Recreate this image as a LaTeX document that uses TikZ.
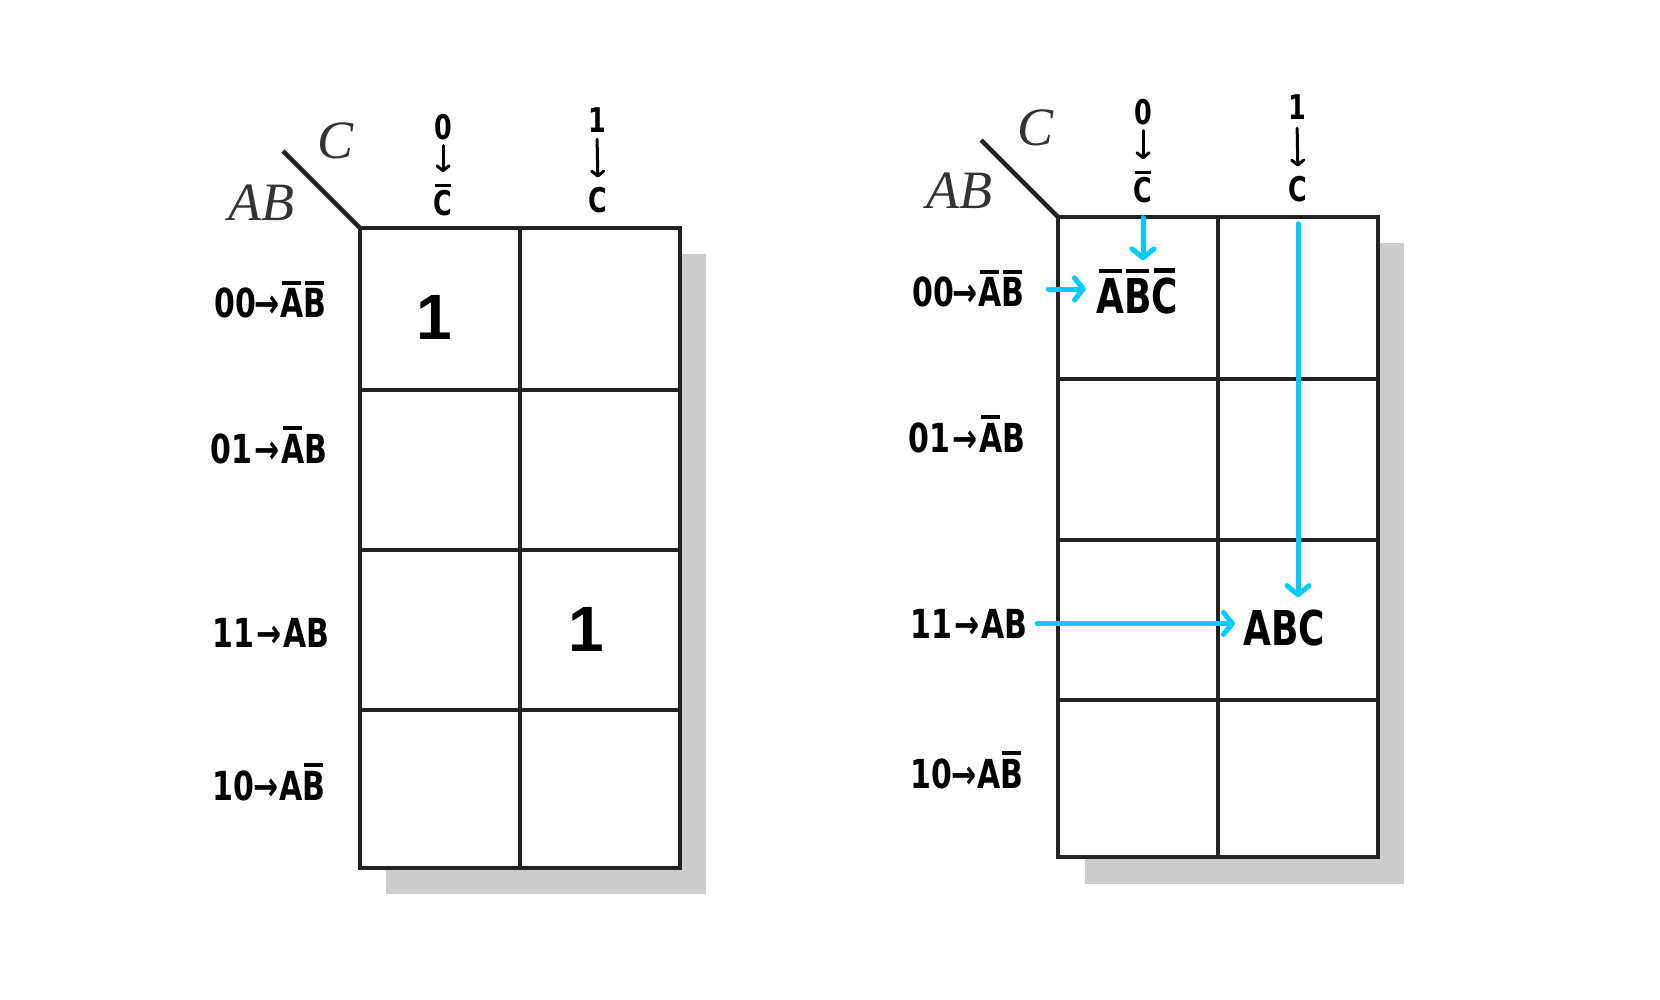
\documentclass[tikz,border=0pt]{standalone}
\usepackage{fontspec}
\setmainfont{Liberation Serif}
\newfontfamily\hand[FakeStretch=0.75]{DejaVu Sans}
\newfontfamily\onefont{Liberation Sans}
\usetikzlibrary{arrows.meta}
\definecolor{gridc}{HTML}{222222}
\definecolor{shadowc}{HTML}{CCCCCC}
\definecolor{cyanc}{HTML}{00CCFF}
\definecolor{serifc}{HTML}{333333}
\newcommand\ovl[1]{\setbox0\hbox{#1}\hbox{\rlap{\raise\dimexpr\ht0+0.1em\relax\hbox{\kern0.05em\vrule width\dimexpr\wd0-0.1em\relax height 0.085em depth 0pt}}\box0}}
\tikzset{
  rowlab/.style={font=\hand\bfseries\fontsize{40}{40}\selectfont, anchor=base west, inner sep=2pt},
  hdr/.style={font=\hand\bfseries\fontsize{34}{34}\selectfont, anchor=base, inner sep=2pt},
  celltxt/.style={font=\hand\bfseries\fontsize{48}{48}\selectfont, anchor=base, inner sep=2pt},
  bigone/.style={font=\onefont\bfseries\fontsize{64}{64}\selectfont, anchor=base, inner sep=0pt},
  axislab/.style={font=\itshape\fontsize{54}{54}\selectfont, text=serifc, inner sep=0pt},
  gridline/.style={draw=gridc, line width=4.5pt},
  harrow/.style={line width=3pt, line cap=round, -{Straight Barb[length=5pt,width=12pt,round]}},
  barrow/.style={draw=cyanc, line width=5pt, line cap=round, -{Straight Barb[length=9pt,width=22pt,round]}}
}
\begin{document}
\begin{tikzpicture}[x=1pt,y=-1pt]
\useasboundingbox[fill=white] (0,0) rectangle (1660,1000);

% ---------------- left panel ----------------
\fill[shadowc] (386,254) rectangle (706,894);
\draw[gridline, fill=white] (360,228) rectangle (680,868);
\draw[gridline] (520,228) -- (520,868);
\foreach \yy in {390,550,710} \draw[gridline] (360,\yy) -- (680,\yy);
\draw[gridline] (283,151) -- (360,228);

\node[axislab] (LCax) at (336,141) {C};
\node[axislab] (LABax) at (261,203) {AB};

\node[hdr] (L0) at (443,140) {0};
\node[hdr] (LCb) at (443,216) {\ovl{C}};
\draw[harrow, shorten <=3pt, shorten >=10pt] (L0.south) -- (LCb.north);
\node[hdr] (L1) at (597,133) {1};
\node[hdr] (LC) at (598,213) {C};
\draw[harrow, shorten <=4pt, shorten >=8pt] (L1.south) -- (LC.north);

\node[rowlab] (L00) at (212,318) {00\kern-1pt→\ovl{A}\ovl{B}};
\node[rowlab] (L01) at (208,463) {01\kern3pt→\kern1pt\ovl{A}B};
\node[rowlab] (L11) at (210,647) {11\kern3pt→\kern1ptAB};
\node[rowlab] (L10) at (210,800) {10→A\ovl{B}};

\node[bigone] (Lv1) at (434,339) {1};
\node[bigone] (Lv2) at (586,651) {1};

% ---------------- right panel ----------------
\fill[shadowc] (1085,243) rectangle (1404,884);
\draw[gridline, fill=white] (1058,217) rectangle (1378,857);
\draw[gridline] (1218,217) -- (1218,857);
\foreach \yy in {379,540,700} \draw[gridline] (1058,\yy) -- (1378,\yy);
\draw[gridline] (981,140) -- (1058,217);

\node[axislab] (RCax) at (1035,128) {C};
\node[axislab] (RABax) at (959,191) {AB};

\node[hdr] (R0) at (1143,125) {0};
\node[hdr] (RCb) at (1143,203) {\ovl{C}};
\draw[harrow, shorten <=3pt, shorten >=10pt] (R0.south) -- (RCb.north);
\node[hdr] (R1) at (1297,120) {1};
\node[hdr] (RC) at (1298,202) {C};
\draw[harrow, shorten <=6pt, shorten >=8pt] (R1.south) -- (RC.north);

\node[rowlab] (R00) at (910,307) {00\kern-1pt→\ovl{A}\ovl{B}};
\node[rowlab] (R01) at (906,452) {01\kern3pt→\kern1pt\ovl{A}B};
\node[rowlab] (R11) at (908,638) {11\kern3pt→\kern1ptAB};
\node[rowlab] (R10) at (908,788) {10→A\ovl{B}};

\node[celltxt] (Rt1) at (1137,313) {\ovl{A}\ovl{B}\ovl{C}};
\node[celltxt] (Rt2) at (1284,645) {ABC};

\draw[barrow, shorten <=12pt, shorten >=6pt] (RCb.south) -- (Rt1.north -| RCb.south);
\draw[barrow, shorten <=22pt, shorten >=8pt] (R00.east) -- (Rt1.west |- R00.east);
\draw[barrow, shorten <=19pt, shorten >=10pt] (RC.south) -- (Rt2.north -| RC.south);
\draw[barrow, shorten <=8pt, shorten >=6pt] (R11.east) -- (Rt2.west |- R11.east);
\end{tikzpicture}
\end{document}
